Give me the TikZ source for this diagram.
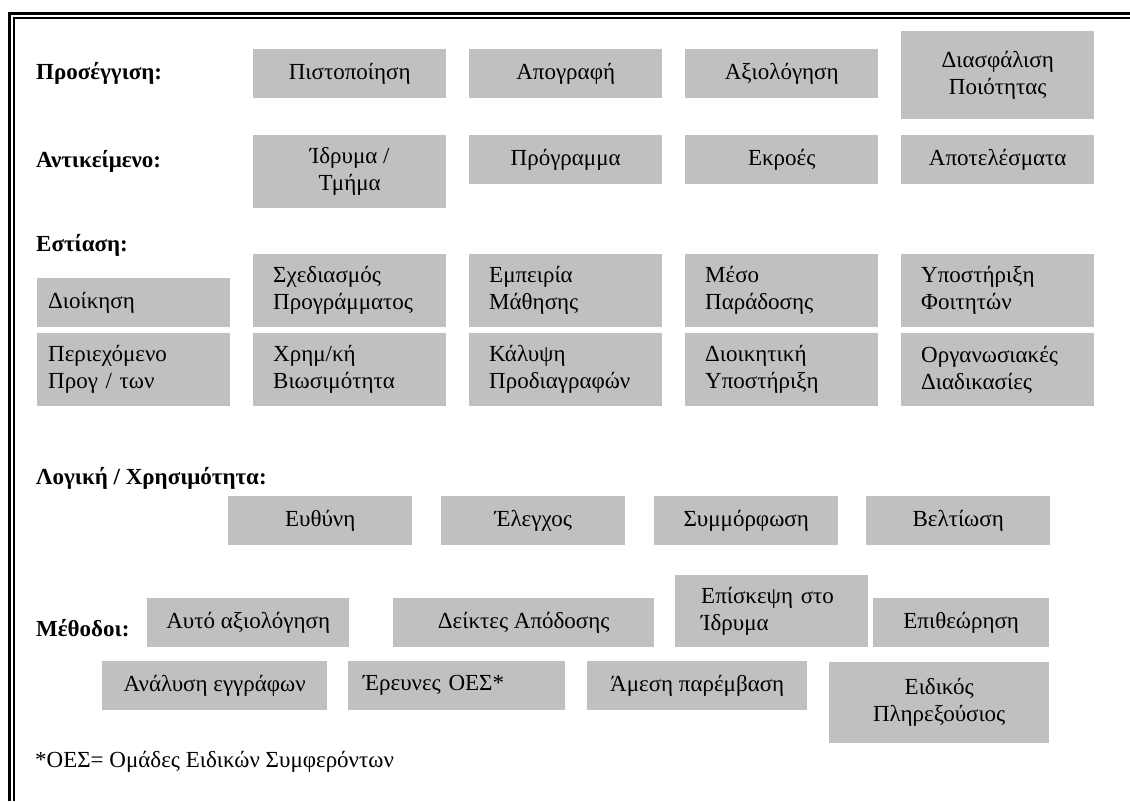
\documentclass[tikz,border=0pt]{standalone}
\usepackage{fontspec}
\setmainfont{Liberation Serif}
\definecolor{boxgray}{RGB}{192,192,192}

\begin{document}
\begin{tikzpicture}[x=1pt, y=-1pt,
    box/.style={fill=boxgray, anchor=north west, inner sep=0pt, align=center,
      minimum width=193pt, minimum height=49pt, font=\fontsize{23}{27}\selectfont},
    tallbox/.style={minimum height=73pt},
    leftbox/.style={inner xsep=#1, text width=193pt-2*#1, align=left},
    heading/.style={anchor=west, inner sep=0pt, font=\bfseries\fontsize{23}{27}\selectfont},
    plain/.style={anchor=west, inner sep=0pt, font=\fontsize{23}{27}\selectfont}]
    \useasboundingbox (0,0) rectangle (1130,801);

    % Frame
    \draw[line width=3pt] (9.5,801) -- (9.5,13.5) -- (1130,13.5);
    \draw[line width=2pt] (14,801) -- (14,18) -- (1130,18);

    % Approach
    \node[heading] (hprose) at (36,73) {Προσέγγιση:};
    \node[box] (pist) at (253,49) {Πιστοποίηση};
    \node[box] (apog) at (469,49) {Απογραφή};
    \node[box] (axio) at (685,49) {Αξιολόγηση};
    \node[box, minimum height=88pt] (diasf) at (901,31) {Διασφάλιση\\Ποιότητας};

    % Object
    \node[heading] (hantik) at (36,161) {Αντικείμενο:};
    \node[box, tallbox] (idryma) at (253,135) {Ίδρυμα /\\Τμήμα};
    \node[box] (progr) at (469,135) {Πρόγραμμα};
    \node[box] (ekroes) at (685,135) {Εκροές};
    \node[box] (apotel) at (901,135) {Αποτελέσματα};

    % Focus
    \node[heading] (hestia) at (36,245) {Εστίαση:};
    \node[box, leftbox=11pt] (dioik) at (37,278) {Διοίκηση};
    \node[box, tallbox, leftbox=20pt] (sxed) at (253,254) {Σχεδιασμός\\Προγράμματος};
    \node[box, tallbox, leftbox=20pt] (empeir) at (469,254) {Εμπειρία\\Μάθησης};
    \node[box, tallbox, leftbox=20pt] (meso) at (685,254) {Μέσο\\Παράδοσης};
    \node[box, tallbox, leftbox=20pt] (ypost) at (901,254) {Υποστήριξη\\Φοιτητών};
    \node[box, tallbox, leftbox=11pt] (perie) at (37,333) {Περιεχόμενο\\Προγ / των};
    \node[box, tallbox, leftbox=20pt] (xrim) at (253,333) {Χρημ/κή\\Βιωσιμότητα};
    \node[box, tallbox, leftbox=20pt] (kalyp) at (469,333) {Κάλυψη\\Προδιαγραφών};
    \node[box, tallbox, leftbox=20pt] (dioikyp) at (685,333) {Διοικητική\\Υποστήριξη};
    \node[box, tallbox, leftbox=20pt] (organ) at (901,333) {Οργανωσιακές\\Διαδικασίες};

    % Rationale
    \node[heading] (hlogik) at (36,478) {Λογική / Χρησιμότητα:};
    \node[box, minimum width=184pt] (eythyni) at (228,496) {Ευθύνη};
    \node[box, minimum width=184pt] (elegx) at (441,496) {Έλεγχος};
    \node[box, minimum width=184pt] (symmorf) at (654,496) {Συμμόρφωση};
    \node[box, minimum width=184pt] (beltiosi) at (866,496) {Βελτίωση};

    % Methods
    \node[heading] (hmethod) at (36,628) {Μέθοδοι:};
    \node[box, minimum width=202pt] (autoax) at (147,598) {Αυτό αξιολόγηση};
    \node[box, minimum width=261pt] (deiktes) at (393,598) {Δείκτες Απόδοσης};
    \node[box, minimum height=72pt, inner xsep=18pt, text width=141pt, align=left] (episk) at (675,575) {Επίσκεψη στο\\Ίδρυμα};
    \node[box, minimum width=176pt] (epitheor) at (873,598) {Επιθεώρηση};
    \node[box, minimum width=225pt] (analysi) at (102,661) {Ανάλυση εγγράφων};
    \node[box, inner xsep=15pt, text width=187pt, align=left] (erevnes) at (348,661) {Έρευνες ΟΕΣ*};
    \node[box, minimum width=220pt] (amesi) at (587,661) {Άμεση παρέμβαση};
    \node[box, minimum width=220pt, minimum height=81pt] (eidikos) at (829,662) {Ειδικός\\Πληρεξούσιος};

    % Footnote
    \node[plain] (fnote) at (35,762) {*ΟΕΣ= Ομάδες Ειδικών Συμφερόντων};
\end{tikzpicture}
\end{document}
